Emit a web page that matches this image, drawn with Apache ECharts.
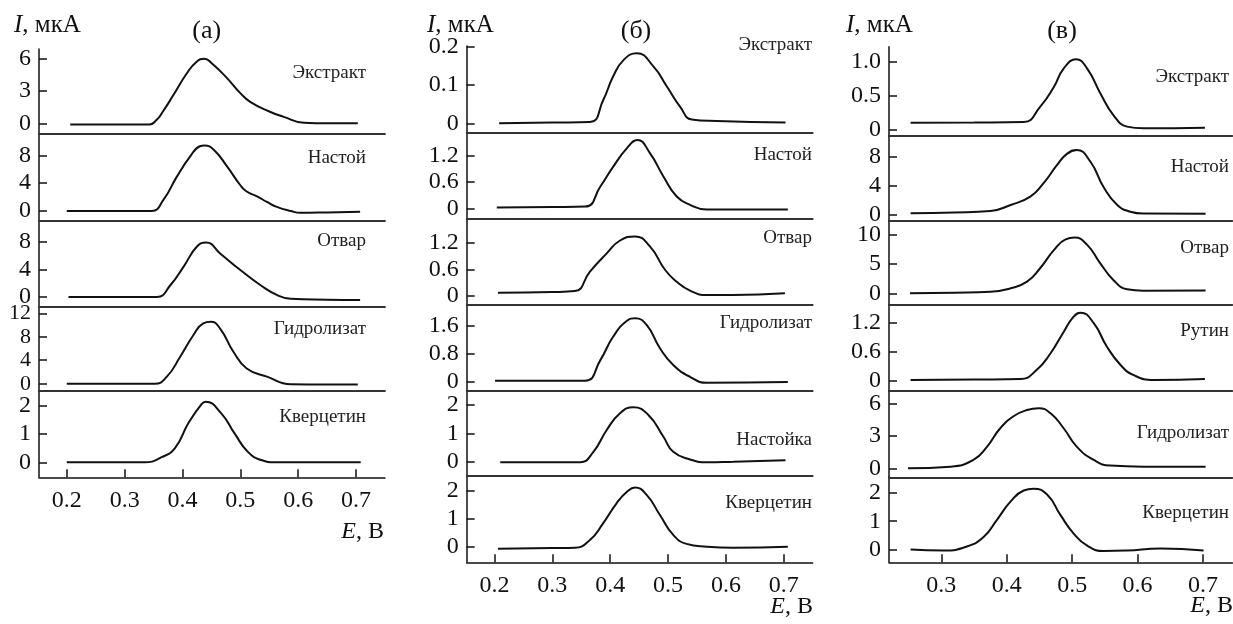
<!DOCTYPE html>
<html><head><meta charset="utf-8">
<script src="https://cdn.jsdelivr.net/npm/echarts@6/dist/echarts.min.js"></script>
<style>html,body{margin:0;padding:0;background:#fff}#c{width:1233px;height:624px}</style>
</head><body><div id="c"></div>
<script>
// ---------- DATA (E, V ; I, µA) ----------
const aExtract = [[0.206,-0.1],[0.3,-0.1],[0.343,-0.1],[0.355,0.3],[0.365,1.0],[0.384,2.6],[0.407,4.6],[0.424,5.7],[0.438,6.0],[0.45,5.6],[0.477,4.2],[0.5,2.8],[0.517,2.0],[0.55,1.1],[0.575,0.6],[0.61,0.05],[0.65,0],[0.703,0]];
const aInfusion = [[0.2,0],[0.3,0],[0.347,0],[0.367,1.6],[0.39,4.9],[0.413,7.8],[0.43,9.3],[0.438,9.4],[0.454,8.8],[0.477,6.4],[0.5,3.7],[0.511,2.8],[0.529,2.1],[0.546,1.3],[0.563,0.6],[0.587,0.0],[0.604,-0.25],[0.65,-0.2],[0.707,-0.1]];
const aDecoction = [[0.203,0],[0.3,0],[0.356,0],[0.379,1.7],[0.402,4.4],[0.425,7.3],[0.441,7.9],[0.465,6.3],[0.5,3.9],[0.535,1.7],[0.563,0.3],[0.587,-0.25],[0.65,-0.4],[0.707,-0.45]];
const aHydrolysate = [[0.2,0],[0.3,0],[0.352,0],[0.373,1.2],[0.396,4.6],[0.419,8.3],[0.436,10.3],[0.449,10.56],[0.465,9.4],[0.488,5.45],[0.511,2.6],[0.546,1.2],[0.587,-0.1],[0.65,-0.15],[0.703,-0.15]];
const aQuercetin = [[0.2,0],[0.3,0],[0.335,0],[0.364,0.18],[0.387,0.5],[0.41,1.38],[0.433,2.06],[0.44,2.14],[0.467,1.73],[0.49,1.02],[0.513,0.37],[0.536,0.08],[0.56,0],[0.65,0],[0.708,0]];

const bExtract = [[0.208,0],[0.3,0.002],[0.365,0.0035],[0.388,0.061],[0.405,0.122],[0.423,0.165],[0.446,0.183],[0.475,0.148],[0.498,0.096],[0.521,0.043],[0.541,0.010],[0.584,0.006],[0.703,0.002]];
const bInfusion = [[0.204,0.02],[0.3,0.03],[0.357,0.04],[0.383,0.5],[0.405,0.95],[0.429,1.38],[0.447,1.57],[0.469,1.26],[0.492,0.73],[0.515,0.27],[0.538,0.08],[0.567,-0.03],[0.707,-0.03]];
const bDecoction = [[0.206,0.075],[0.3,0.09],[0.339,0.11],[0.365,0.55],[0.394,0.96],[0.417,1.25],[0.443,1.34],[0.469,1.11],[0.495,0.585],[0.515,0.32],[0.538,0.12],[0.567,0.02],[0.612,0.02],[0.702,0.06]];
const bHydrolysate = [[0.201,0.03],[0.3,0.03],[0.357,0.03],[0.383,0.62],[0.405,1.29],[0.429,1.75],[0.443,1.82],[0.463,1.63],[0.486,0.96],[0.509,0.48],[0.538,0.14],[0.567,-0.03],[0.707,-0.01]];
const bTincture = [[0.21,-0.02],[0.3,-0.02],[0.348,-0.02],[0.371,0.35],[0.394,1.12],[0.417,1.71],[0.44,1.92],[0.466,1.65],[0.492,0.88],[0.509,0.35],[0.538,0.08],[0.567,-0.02],[0.613,0.0],[0.703,0.05]];
const bQuercetin = [[0.206,-0.07],[0.3,-0.05],[0.339,-0.04],[0.365,0.24],[0.388,0.84],[0.411,1.55],[0.429,1.96],[0.443,2.11],[0.463,1.85],[0.486,1.13],[0.509,0.42],[0.532,0.1],[0.567,0],[0.613,-0.04],[0.707,0]];

const cExtract = [[0.253,0.107],[0.35,0.11],[0.426,0.117],[0.451,0.34],[0.472,0.63],[0.487,0.9],[0.506,1.035],[0.523,0.9],[0.543,0.54],[0.563,0.22],[0.584,0.05],[0.609,0.025],[0.703,0.035]];
const cInfusion = [[0.253,0.14],[0.32,0.25],[0.375,0.46],[0.406,1.3],[0.436,2.45],[0.456,4.3],[0.477,6.85],[0.492,8.4],[0.507,8.93],[0.528,7.3],[0.548,3.8],[0.569,1.3],[0.589,0.36],[0.609,0.1],[0.704,0.08]];
const cDecoction = [[0.252,0],[0.32,0.1],[0.375,0.27],[0.406,0.86],[0.431,2.0],[0.451,4.3],[0.472,7.4],[0.49,9.26],[0.504,9.55],[0.523,8.3],[0.543,5.15],[0.563,2.3],[0.584,0.69],[0.609,0.46],[0.704,0.5]];
const cRutin = [[0.253,0.02],[0.35,0.03],[0.421,0.04],[0.446,0.23],[0.467,0.57],[0.487,1.01],[0.502,1.32],[0.513,1.405],[0.533,1.19],[0.553,0.71],[0.574,0.33],[0.594,0.12],[0.625,0.02],[0.703,0.04]];
const cHydrolysate = [[0.249,0],[0.314,0.15],[0.349,0.77],[0.37,2.0],[0.39,3.7],[0.411,4.83],[0.431,5.38],[0.449,5.54],[0.467,5.08],[0.487,3.7],[0.507,2.0],[0.533,0.77],[0.558,0.25],[0.609,0.15],[0.704,0.15]];
const cQuercetin = [[0.253,0.02],[0.304,-0.02],[0.339,0.12],[0.365,0.46],[0.385,1.05],[0.406,1.69],[0.426,2.07],[0.441,2.13],[0.462,1.92],[0.482,1.22],[0.502,0.58],[0.523,0.15],[0.548,-0.04],[0.584,-0.02],[0.635,0.05],[0.701,-0.02]];

// tick labels
const xTicksAB = [0.2,0.3,0.4,0.5,0.6,0.7];
const xTicksC = [0.3,0.4,0.5,0.6,0.7];
const columnTitles = ['(а)','(б)','(в)'];

const panelNames = [
  ['Экстракт','Настой','Отвар','Гидролизат','Кверцетин'],
  ['Экстракт','Настой','Отвар','Гидролизат','Настойка','Кверцетин'],
  ['Экстракт','Настой','Отвар','Рутин','Гидролизат','Кверцетин']
];
const panelData = [
  [aExtract,aInfusion,aDecoction,aHydrolysate,aQuercetin],
  [bExtract,bInfusion,bDecoction,bHydrolysate,bTincture,bQuercetin],
  [cExtract,cInfusion,cDecoction,cRutin,cHydrolysate,cQuercetin]
];
const panelYTicks = [
  [[0,3,6],[0,4,8],[0,4,8],[0,4,8,12],[0,1,2]],
  [[0,0.1,0.2],[0,0.6,1.2],[0,0.6,1.2],[0,0.8,1.6],[0,1,2],[0,1,2]],
  [[0,0.5,1.0],[0,4,8],[0,5,10],[0,0.6,1.2],[0,3,6],[0,1,2]]
];
const panelDecimals = [
  [0,0,0,0,0],
  [1,1,1,1,0,0],
  [1,0,0,1,0,0]
];
const panelYRange = [
  [[-0.99,6.90],[-1.39,11.06],[-1.45,11.04],[-1.24,13.07],[-0.53,2.52]],
  [[-0.0245,0.2018],[-0.246,1.735],[-0.203,1.734],[-0.267,2.203],[-0.504,2.494],[-0.557,2.525]],
  [[-0.083,1.22],[-0.89,10.92],[-2.0,12.45],[-0.206,1.564],[-0.83,7.14],[-0.43,2.53]]
];
const colXRange = [[0.152,0.75],[0.152,0.75],[0.22,0.745]];
const colXTicks = [xTicksAB, xTicksAB, xTicksC];

// ---------- LAYOUT (pixels) ----------
const colLeft = [39, 466.7, 889];
const colWidth = [346, 346, 343.4];
const colEdges = [
  [49,134,220.7,307,391,477.3],
  [46,132.7,219,305,391,476,562.3],
  [46.7,135.7,220.7,305,391,477.3,562.3]
];
const labelRight = [366, 812, 1229];
const labelYs = [
  [72.7,158,240.7,329,417],
  [45,155,238,323,440,502.7],
  [76.7,166.7,248,330.7,433,513]
];
const titleX = [[14,206.7],[427,636],[846,1062]];
const xTitleRight = [384, 813, 1233];
const xTitleY = [531.7, 607, 606];

const SERIF = "'Liberation Serif','Times New Roman',serif";
const grids=[], xAxes=[], yAxes=[], series=[], graphics=[];
let gi = 0;
for (let c=0;c<3;c++){
  const n = panelNames[c].length;
  for (let p=0;p<n;p++){
    const top = colEdges[c][p], bot = colEdges[c][p+1];
    const last = p===n-1;
    const ticks = panelYTicks[c][p];
    grids.push({left:colLeft[c], top:top, width:colWidth[c], height:bot-top, containLabel:false, outerBoundsMode:'none'});
    const dec = panelDecimals[c][p];
    xAxes.push({
      type:'value', gridIndex:gi, min:colXRange[c][0], max:colXRange[c][1],
      axisLine:{show:true, onZero:false, lineStyle:{color:last?'#111':'#333', width:last?1.5:1.8}},
      axisTick:{show:last, inside:true, length:8, lineStyle:{color:'#111',width:1.5}, customValues:colXTicks[c]},
      axisLabel:{show:last, margin:11, color:'#111', fontFamily:SERIF, fontSize:24, customValues:colXTicks[c], formatter:v=>v.toFixed(1)},
      splitLine:{show:false}
    });
    yAxes.push({
      type:'value', gridIndex:gi, min:panelYRange[c][p][0], max:panelYRange[c][p][1],
      axisLine:{show:true, onZero:false, lineStyle:{color:'#111', width:1.5}},
      axisTick:{show:true, inside:true, length:8, lineStyle:{color:'#111',width:1.5}, customValues:ticks},
      axisLabel:{show:true, margin:8, color:'#111', fontFamily:SERIF, fontSize:(ticks.length>3?22:24), customValues:ticks,
        formatter:v=> (Math.abs(v)<1e-9 ? '0' : v.toFixed(dec))},
      splitLine:{show:false}
    });
    series.push({
      type:'line', xAxisIndex:gi, yAxisIndex:gi, data:panelData[c][p],
      showSymbol:false, symbol:'none', smooth:0.5,
      lineStyle:{color:'#111', width:2}, silent:true, clip:false
    });
    graphics.push({type:'text', style:{text:panelNames[c][p], x:labelRight[c], y:labelYs[c][p], align:'right', verticalAlign:'middle', font:"19px "+SERIF, fill:'#222'}});
    gi++;
  }
  graphics.push({type:'text', style:{text:'{i|I}, мкА', x:titleX[c][0], y:25, align:'left', verticalAlign:'middle', font:"25px "+SERIF, fill:'#111',
    rich:{i:{fontStyle:'italic', fontFamily:SERIF, fontSize:25, fill:'#111'}}}});
  graphics.push({type:'text', style:{text:columnTitles[c], x:titleX[c][1], y:31, align:'center', verticalAlign:'middle', font:"26px "+SERIF, fill:'#111'}});
  graphics.push({type:'text', style:{text:'{i|E}, В', x:xTitleRight[c], y:xTitleY[c], align:'right', verticalAlign:'middle', font:"24px "+SERIF, fill:'#111',
    rich:{i:{fontStyle:'italic', fontFamily:SERIF, fontSize:24, fill:'#111'}}}});
}

const chart = echarts.init(document.getElementById('c'), null, {renderer:'canvas'});
chart.setOption({animation:false, backgroundColor:'#fff', grid:grids, xAxis:xAxes, yAxis:yAxes, series:series, graphic:graphics});
</script></body></html>
